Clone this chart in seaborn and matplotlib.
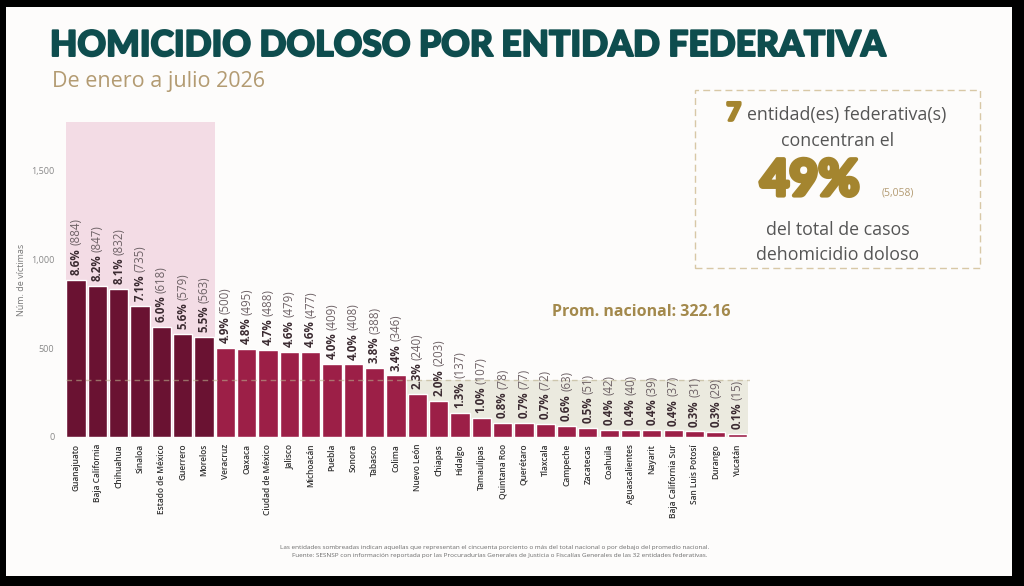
import pandas as pd
import numpy as np
import matplotlib
import matplotlib.pyplot as plt
import matplotlib.patheffects as pe
import seaborn as sns
from matplotlib.patches import Rectangle

sns.set_style('white')
plt.rcParams['font.family'] = ['Open Sans', 'DejaVu Sans']

# Data
estados = ['Guanajuato', 'Baja California', 'Chihuahua', 'Sinaloa', 'Estado de México',
           'Guerrero', 'Morelos', 'Veracruz', 'Oaxaca', 'Ciudad de México', 'Jalisco',
           'Michoacán', 'Puebla', 'Sonora', 'Tabasco', 'Colima', 'Nuevo León', 'Chiapas',
           'Hidalgo', 'Tamaulipas', 'Quintana Roo', 'Querétaro', 'Tlaxcala', 'Campeche',
           'Zacatecas', 'Coahuila', 'Aguascalientes', 'Nayarit', 'Baja California Sur',
           'San Luis Potosí', 'Durango', 'Yucatán']
victimas = [884, 847, 832, 735, 618, 579, 563, 500, 495, 488, 479, 477, 409, 408, 388,
            346, 240, 203, 137, 107, 78, 77, 72, 63, 51, 42, 40, 39, 37, 31, 29, 15]
porcentajes = ['8.6%', '8.2%', '8.1%', '7.1%', '6.0%', '5.6%', '5.5%', '4.9%', '4.8%',
               '4.7%', '4.6%', '4.6%', '4.0%', '4.0%', '3.8%', '3.4%', '2.3%', '2.0%',
               '1.3%', '1.0%', '0.8%', '0.7%', '0.7%', '0.6%', '0.5%', '0.4%', '0.4%',
               '0.4%', '0.4%', '0.3%', '0.3%', '0.1%']
n_top = 7
promedio = 322.16
total_top = '5,058'

df = pd.DataFrame({'estado': estados, 'victimas': victimas})
df['grupo'] = ['top' if i < n_top else 'resto' for i in range(len(df))]

W, H = 1024, 586
fig = plt.figure(figsize=(W / 100, H / 100), dpi=100, facecolor='black')
fig.patches.append(Rectangle((6 / W, 1 - 576 / H), (1012 - 6) / W, (576 - 7) / H,
                             transform=fig.transFigure, facecolor='#fdfcfb',
                             edgecolor='none', zorder=-10))

ax = fig.add_axes([60 / W, 1 - 437 / H, (750 - 60) / W, (437 - 122) / H])
ax.set_facecolor('none')

sns.barplot(data=df, x='estado', y='victimas', hue='grupo', dodge=False,
            palette={'top': '#6a1232', 'resto': '#9c1f47'}, width=0.9,
            saturation=1, legend=False, ax=ax, zorder=3)

ax.set_xlim(-0.75, 31.6)
ax.set_ylim(0, 1770)

# shaded regions
ax.axvspan(-0.45, n_top - 0.5, color='#f3dce5', zorder=1, lw=0)
first_low = next(i for i, v in enumerate(victimas) if v < promedio)
ax.fill_between([first_low - 0.5, len(victimas) - 0.5], 0, promedio,
                color='#ebeadf', zorder=1, lw=0)
ax.hlines(promedio, -0.45, 31.6, colors='#b9ae8c', linestyles=(0, (4, 3)),
          lw=1, alpha=0.6, zorder=4)

ax.text(26.5, promedio + 380, 'Prom. nacional: 322.16', ha='center', va='center',
        fontsize=11.5, fontweight='bold', color='#a3894c')

# bar labels: bold percent + lighter count
fig.canvas.draw()
renderer = fig.canvas.get_renderer()
for i, (v, p) in enumerate(zip(victimas, porcentajes)):
    t = ax.annotate(p, xy=(i, v), xytext=(0, 3.5), textcoords='offset points',
                    rotation=90, ha='center', va='bottom', fontsize=8.3,
                    fontweight='bold', color='#3b2b31', zorder=5)
    h = t.get_window_extent(renderer).height * 72 / fig.dpi
    ax.annotate(f'({v})', xy=(i, v), xytext=(0, 3.5 + h + 2), textcoords='offset points',
                rotation=90, ha='center', va='bottom', fontsize=8.3,
                color='#6e6266', zorder=5)

ax.set_xlabel('')
ax.set_ylabel('Núm. de víctimas', fontsize=6.5, color='#777777', labelpad=4)
ax.set_yticks([0, 500, 1000, 1500])
ax.set_yticklabels(['0', '500', '1,000', '1,500'])
ax.tick_params(axis='y', labelsize=6.5, colors='#888888', length=0, pad=4)
ax.tick_params(axis='x', labelsize=6, colors='#333333', length=0, pad=5,
               labelrotation=90)
for lab in ax.get_xticklabels():
    lab.set_fontweight('semibold')
sns.despine(ax=ax, left=True, bottom=True)

# title
heavy = [pe.withStroke(linewidth=1.4, foreground='#0e4d4e')]
fig.text(50 / W, 1 - 46 / H, 'HOMICIDIO DOLOSO POR ENTIDAD FEDERATIVA',
         fontsize=25.5, fontweight='black', family='Lato', color='#0e4d4e',
         ha='left', va='center', path_effects=heavy)
fig.text(52 / W, 1 - 82 / H, 'De enero a julio 2026', fontsize=15.5,
         color='#b39b72', ha='left', va='center')

# summary box
fig.patches.append(Rectangle((695 / W, 1 - 268 / H), (980 - 695) / W, (268 - 90) / H,
                             transform=fig.transFigure, facecolor='none',
                             edgecolor='#d8c8a6', linestyle=(0, (5, 3)), lw=1))
gold = '#a4852f'
gold_heavy = [pe.withStroke(linewidth=2, foreground=gold)]
fig.text(741 / W, 1 - 113 / H, str(n_top), fontsize=18, fontweight='black',
         family='Lato', color=gold, ha='right', va='center', path_effects=gold_heavy)
fig.text(747 / W, 1 - 115 / H, 'entidad(es) federativa(s)', fontsize=12.8,
         color='#555555', ha='left', va='center')
fig.text(838 / W, 1 - 141 / H, 'concentran el', fontsize=12.8,
         color='#555555', ha='center', va='center')
fig.text(810 / W, 1 - 181 / H, '49%', fontsize=36, fontweight='black',
         family='Lato', color=gold, ha='center', va='center',
         path_effects=[pe.withStroke(linewidth=3, foreground=gold)])
fig.text(898 / W, 1 - 193 / H, f'({total_top})', fontsize=7.5,
         color='#b39b72', ha='center', va='center')
fig.text(838 / W, 1 - 230 / H, 'del total de casos', fontsize=12.8,
         color='#555555', ha='center', va='center')
fig.text(838 / W, 1 - 255 / H, 'dehomicidio doloso', fontsize=12.8,
         color='#555555', ha='center', va='center')

# footer
fig.text(495 / W, 1 - 547 / H,
         'Las entidades sombreadas indican aquellas que representan el cincuenta porciento '
         'o más del total nacional o por debajo del promedio nacional.',
         fontsize=4.6, color='#6a6a6a', ha='center', va='center')
fig.text(500 / W, 1 - 556 / H,
         'Fuente: SESNSP con información reportada por las Procuradurías Generales de '
         'Justicia o Fiscalías Generales de las 32 entidades federativas.',
         fontsize=4.6, color='#6a6a6a', ha='center', va='center')

fig.savefig('out.png', dpi=100, facecolor=fig.get_facecolor())
